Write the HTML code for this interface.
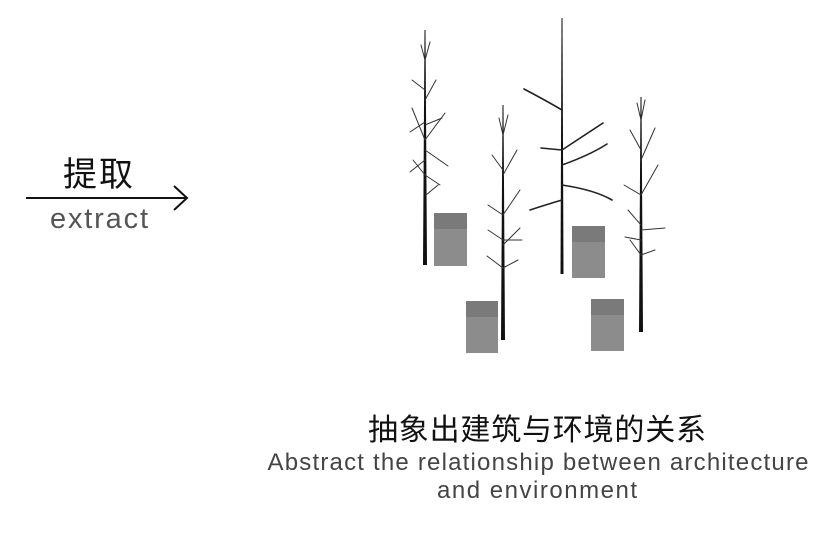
<!DOCTYPE html>
<html><head><meta charset="utf-8"><style>
html,body{margin:0;padding:0;background:#fff;width:838px;height:556px;overflow:hidden}
</style></head><body>
<svg width="838" height="556" viewBox="0 0 838 556" xmlns="http://www.w3.org/2000/svg">
<rect width="838" height="556" fill="#fff"/>
<line x1="26" y1="198" x2="186" y2="198" stroke="#111" stroke-width="2"/>
<polyline points="174,186 187,198 174,210" fill="none" stroke="#111" stroke-width="2"/>
<text x="98" y="186" font-family="Liberation Sans, Noto Sans CJK SC, sans-serif" font-size="34" text-anchor="middle" fill="#111" textLength="70">提取</text>
<text x="99" y="228" font-family="Liberation Sans, sans-serif" font-size="29" text-anchor="middle" fill="#555" textLength="98">extract</text>

<g fill="#111">
<polygon points="424.5,30 425.5,30 427,265 423,265"/>
<polygon points="502.5,105 503.5,105 505,340 501,340"/>
<polygon points="561.5,18 562.5,18 563.5,274 560.5,274"/>
<polygon points="640.5,97 641.5,97 643,332 639,332"/>
</g>
<g stroke="#333" stroke-linecap="round" fill="none" stroke-width="1">
<path d="M425 60 L421 45 M425 60 L430 42 M425 90 L412 80 M425 100 L436 80 M425 122 L410 132 M425 125 L442 118 M425 140 L412 108 M425 140 L445 113 M425 160 L410 172 M425 150 L448 166 M425 175 L413 160 M425 175 L440 185 M426 195 L438 185"/>
<path d="M503 135 L499 118 M503 135 L508 115 M503 170 L492 155 M503 175 L517 150 M503 215 L488 205 M503 215 L520 190 M503 240 L488 230 M503 245 L520 228 M503 240 L522 240 M503 268 L487 256 M503 268 L518 260"/>
<path d="M641 120 L637 103 M641 120 L645 100 M641 150 L630 130 M641 160 L655 128 M641 195 L624 185 M641 195 L658 165 M641 225 L628 210 M641 230 L665 228 M641 240 L625 237 M641 255 L630 240 M641 255 L655 250"/>
</g>
<g stroke="#222" stroke-linecap="round" fill="none" stroke-width="1.6">
<path d="M562 110 Q545 100 524 89 M562 150 L603 123 M562 150 L541 148 M562 165 Q590 155 607 144 M562 185 Q595 190 612 200 M562 200 Q545 205 530 210"/>
</g>
<g>
<rect x="434" y="213" width="33" height="53" fill="#8c8c8c"/><rect x="434" y="213" width="33" height="16" fill="#7a7a7a"/>
<rect x="466" y="301" width="32" height="52" fill="#8c8c8c"/><rect x="466" y="301" width="32" height="16" fill="#7a7a7a"/>
<rect x="572" y="226" width="33" height="52" fill="#8c8c8c"/><rect x="572" y="226" width="33" height="16" fill="#7a7a7a"/>
<rect x="591" y="299" width="33" height="52" fill="#8c8c8c"/><rect x="591" y="299" width="33" height="16" fill="#7a7a7a"/>
</g>

<text x="537" y="440" font-family="Liberation Sans, Noto Sans CJK SC, sans-serif" font-size="30" text-anchor="middle" fill="#111" textLength="338">抽象出建筑与环境的关系</text>
<text x="538" y="470" font-family="Liberation Sans, sans-serif" font-size="24" text-anchor="middle" fill="#444" textLength="541">Abstract the relationship between architecture</text>
<text x="537" y="498" font-family="Liberation Sans, sans-serif" font-size="24" text-anchor="middle" fill="#444" textLength="200">and environment</text>
</svg>
</body></html>
